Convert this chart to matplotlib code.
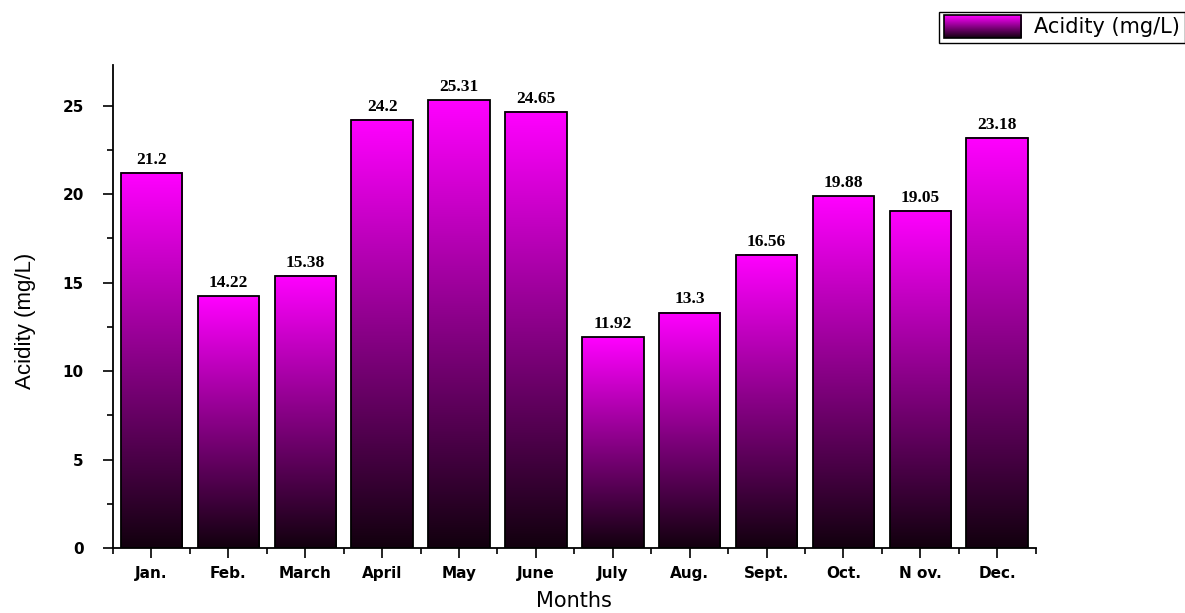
import numpy as np
import matplotlib
matplotlib.use("Agg")
import matplotlib.pyplot as plt
from matplotlib.colors import LinearSegmentedColormap
from matplotlib.legend_handler import HandlerBase
from matplotlib.image import BboxImage
from matplotlib.transforms import Bbox, TransformedBbox
from matplotlib.patches import Rectangle, Patch
from matplotlib.ticker import MultipleLocator

months = ["Jan.", "Feb.", "March", "April", "May", "June",
          "July", "Aug.", "Sept.", "Oct.", "N ov.", "Dec."]
acidity = [21.2, 14.22, 15.38, 24.2, 25.31, 24.65,
           11.92, 13.3, 16.56, 19.88, 19.05, 23.18]
value_labels = ["21.2", "14.22", "15.38", "24.2", "25.31", "24.65",
                "11.92", "13.3", "16.56", "19.88", "19.05", "23.18"]

# dark-to-magenta fill, bottom to top of each bar
grad = LinearSegmentedColormap.from_list("mag", ["#12000e", "#ff00ff"])
ramp = np.linspace(0, 1, 256).reshape(-1, 1)


class GradientHandler(HandlerBase):
    def create_artists(self, legend, orig_handle, xdescent, ydescent,
                       width, height, fontsize, trans):
        x0, y0 = -xdescent, -ydescent - 0.15 * height
        h = height * 1.3
        bb = TransformedBbox(Bbox.from_bounds(x0, y0, width, h), trans)
        img = BboxImage(bb, cmap=grad, origin="lower")
        img.set_data(ramp)
        edge = Rectangle((x0, y0), width, h, facecolor="none",
                         edgecolor="black", linewidth=1.2, transform=trans)
        return [img, edge]


fig = plt.figure(figsize=(11.85, 6.13), dpi=100)
ax = fig.add_axes([0.0954, 0.106, 0.7786, 0.788])

x = np.arange(len(months))
bars = ax.bar(x, acidity, width=0.8, facecolor="none",
              edgecolor="black", linewidth=1.3, zorder=3)

for b, lab in zip(bars, value_labels):
    bx, bw, bh = b.get_x(), b.get_width(), b.get_height()
    ax.imshow(ramp, cmap=grad, origin="lower", aspect="auto",
              extent=[bx, bx + bw, 0, bh], zorder=2)
    ax.text(bx + bw / 2, bh + 0.3, lab, ha="center", va="bottom",
            fontsize=12.5, fontweight="bold", family="Liberation Serif")

ax.set_xlim(-0.5, len(months) - 0.5)
ax.set_ylim(0, 27.3)

ax.set_xticks(x)
ax.set_xticklabels(months, fontsize=11, fontweight="bold")
ax.xaxis.set_minor_locator(MultipleLocator(1, offset=0.5))
ax.yaxis.set_major_locator(MultipleLocator(5))
ax.yaxis.set_minor_locator(MultipleLocator(2.5))
for lab in ax.get_yticklabels():
    lab.set_fontweight("bold")
    lab.set_fontsize(11)

ax.tick_params(axis="both", which="major", direction="out", length=7,
               width=1.2, pad=6)
ax.tick_params(axis="both", which="minor", direction="out", length=4,
               width=1.2)
ax.tick_params(axis="y", which="major", pad=14)

for side in ["top", "right"]:
    ax.spines[side].set_visible(False)
for side in ["left", "bottom"]:
    ax.spines[side].set_linewidth(1.3)

ax.set_ylabel("Acidity (mg/L)", fontsize=16, family="Liberation Sans")
ax.yaxis.set_label_coords(-0.083, 0.47)
ax.set_xlabel("Months", fontsize=15)
ax.xaxis.set_label_coords(0.5, -0.09)

leg_handle = Patch(label="Acidity (mg/L)")
leg = fig.legend(handles=[leg_handle], handler_map={Patch: GradientHandler()},
                 loc="upper right", bbox_to_anchor=(1.0, 0.98),
                 fontsize=15, fancybox=False, edgecolor="black",
                 handlelength=3.7, handleheight=0.9, borderpad=0.25,
                 borderaxespad=0.0, handletextpad=0.6, framealpha=1)
leg.get_frame().set_linewidth(1.0)

fig.savefig("out.png", dpi=100)
